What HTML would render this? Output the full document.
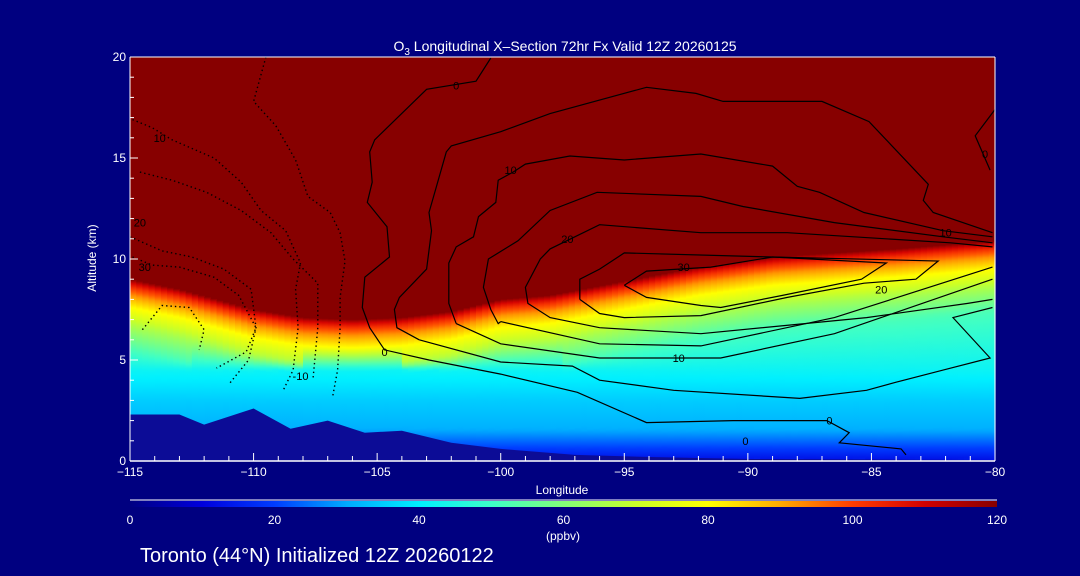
<!DOCTYPE html>
<html><head><meta charset="utf-8"><style>
html,body{margin:0;padding:0;background:#000080;}
svg{display:block;font-family:"Liberation Sans",sans-serif;}
</style></head><body>
<svg id="chart" width="1080" height="576" viewBox="0 0 1080 576" xmlns="http://www.w3.org/2000/svg">
<defs id="defs"></defs>
<rect x="0" y="0" width="1080" height="576" fill="#000080"/>
<text x="565" y="51" fill="#fff" font-size="14" text-anchor="middle">O<tspan font-size="10" dy="4">3</tspan><tspan dy="-4"> Longitudinal X–Section 72hr  Fx Valid 12Z 20260125</tspan></text>
<g id="field"></g>
<g id="terrain"></g>
<g id="contours"></g>
<g id="axes"></g>
<text x="562" y="494" fill="#fff" font-size="12" text-anchor="middle">Longitude</text>
<text x="96" y="258" fill="#fff" font-size="12" text-anchor="middle" transform="rotate(-90 96 258)">Altitude (km)</text>
<g id="colorbar"></g>
<text x="563" y="540" fill="#fff" font-size="12" text-anchor="middle">(ppbv)</text>
<text x="140" y="562" fill="#fff" font-size="20">Toronto (44°N) Initialized 12Z 20260122</text>
</svg>
<script>
const tropoLon=[-115,-113,-110,-108,-106,-104,-102,-100,-98,-95,-92,-89,-84,-80];
const tropoAlt=[9.0,8.5,7.5,7.1,7.0,7.1,7.4,8.0,8.2,8.9,9.6,10.1,10.5,10.9];
const terrLon=[-115,-113,-112,-110,-108.5,-107,-105.5,-104,-102,-100,-97,-94,-90,-80];
const terrAlt=[2.3,2.3,1.8,2.6,1.6,2.0,1.4,1.5,0.9,0.6,0.3,0.2,0.1,0.05];
const xTicks=[-115,-110,-105,-100,-95,-90,-85,-80];
const yTicks=[0,5,10,15,20];
const cbTicks=[0,20,40,60,80,100,120];
const cSolid0=[[-100.4,19.95],[-101,18.8],[-103,18.4],[-105.1,15.9],[-105.3,15.3],[-105.2,13.8],[-105.4,12.8],[-104.6,11.6],[-104.5,10.1],[-105.5,9.1],[-105.6,7.6],[-105.3,6.6],[-104.7,5.5],[-102.9,5.0],[-100,4.3],[-96.9,3.4],[-94.1,1.9],[-90.6,2.0],[-86.8,2.0],[-85.9,1.4],[-86.3,0.9],[-83.8,0.6],[-83.6,0.3]];
const cSolid1=[[-103.3,6.0],[-104.2,6.6],[-104.3,7.5],[-104.1,8.1],[-103,9.5],[-102.8,11.4],[-102.9,12.3],[-102.6,13.6],[-102.2,15.3],[-102,15.6],[-100,16.3],[-98,17.2],[-94.1,18.5],[-92.1,18.2],[-91,17.8],[-87,17.8],[-85.1,16.8],[-82.7,13.7],[-82.9,12.9],[-82.5,12.3],[-80.1,11.3]];
const cSolid1b=[[-103.3,6.0],[-100,4.9],[-97.1,4.7],[-96,4.0],[-93,3.5],[-87.9,3.1],[-85.2,3.5],[-84,3.9],[-82.1,4.5],[-80.2,5.1],[-81.7,7.1],[-80.1,7.6]];
const cSolid2=[[-101.8,6.8],[-102.1,7.8],[-102.1,9.8],[-101.8,10.6],[-101.1,11.1],[-100.9,12.1],[-100.2,12.8],[-100.1,13.9],[-99.5,14.3],[-99,14.7],[-97.2,15.1],[-95,14.9],[-91.9,15.2],[-89,14.6],[-88,13.6],[-87.1,13.3],[-85.3,12.3],[-82.1,11.4],[-80.1,11.1]];
const cSolid2b=[[-101.8,6.8],[-100,5.8],[-96,5.1],[-91.1,5.1],[-86.5,6.3],[-80.1,9.0]];
const cSolid3=[[-100,6.9],[-100.1,6.8],[-100.4,7.5],[-100.7,8.6],[-100.5,10],[-99.3,10.9],[-98,12.4],[-96.1,13.3],[-91.9,13.1],[-90.2,12.6],[-86.5,11.8],[-82.1,11.1],[-80.1,10.8]];
const cSolid3b=[[-100,6.9],[-96,5.8],[-91.9,5.7],[-86.5,7.1],[-80.1,9.6]];
const cSolid4=[[-80.1,10.6],[-81.8,10.8],[-88.4,11.3],[-91.9,11.3],[-96,11.7],[-98,10.5],[-98.4,10],[-99,8.6],[-98.9,7.8],[-98,7.1],[-96,6.6],[-91.9,6.3],[-85.2,7.1],[-81.1,7.8],[-80.1,8.0]];
const cSolid5=[[-96.8,8],[-96.8,9],[-96,9.5],[-95,10.3],[-89,10.1],[-82.3,9.9],[-83.2,9.0],[-85.3,8.8],[-88.4,8.1],[-91.9,7.2],[-95,7.1],[-96,7.3],[-96.8,8]];
const cSolid6=[[-95,8.7],[-94.1,9.4],[-91.5,9.6],[-89,10.1],[-84.4,9.8],[-85.4,9.0],[-88.6,8.2],[-91.1,7.6],[-91.9,7.7],[-94.1,8.1],[-95,8.7]];
const cSolid7=[[-80,17.4],[-80.8,16.1],[-80.2,14.4]];
const cDot1=[[-109.5,20],[-110,17.8],[-109.1,16.6],[-108.3,14.9],[-107.8,13.1],[-106.9,12.3],[-106.5,11.3],[-106.3,9.9],[-106.5,8.1],[-106.5,6.6],[-106.6,4.5],[-106.8,3.2]];
const cDot2=[[-114.9,16.9],[-114.1,16.5],[-113.3,15.9],[-111.6,15],[-110.5,13.8],[-109.7,12.4],[-108.7,11.4],[-108.1,9.8],[-108.3,8.5],[-108.2,6.6],[-108.4,4.5],[-108.8,3.5]];
const cDot3=[[-114.6,14.3],[-113.3,13.9],[-111.9,13.3],[-110.5,12.4],[-109.3,11.3],[-108.4,10],[-107.4,8.8],[-107.4,6.6],[-107.6,4.0]];
const cDot4=[[-115,11.1],[-113.7,10.4],[-112.5,10.1],[-111.2,9.5],[-110.1,8.5],[-109.9,6.6],[-110.2,5],[-111,3.8]];
const cDot5=[[-114.9,10.1],[-114.1,9.7],[-113,9.6],[-111.6,9.1],[-110.6,8.2],[-109.9,6.6],[-110.3,5.4],[-111.5,4.6]];
const cDot6=[[-114.5,6.5],[-113.7,7.7],[-112.6,7.6],[-112,6.5],[-112.2,5.5]];
const labelText=["0","10","20","30","10","20","30","20","10","10","0","0","-10","0","0"];
const labelLon=[-101.8,-113.8,-114.6,-114.4,-99.6,-97.3,-92.6,-84.6,-92.8,-82.0,-86.7,-80.4,-108.1,-104.7,-90.1];
const labelAlt=[18.6,16.0,11.8,9.6,14.4,11.0,9.6,8.5,5.1,11.3,2.0,15.2,4.2,5.4,1.0];

const NS='http://www.w3.org/2000/svg';
const X0=130,X1=995,YT=57,YB=461;
function X(lon){return X0+(lon+115)/35*(X1-X0);}
function Y(alt){return YB-alt/20*(YB-YT);}
function interp(xs,ys,x){if(x<=xs[0])return ys[0];for(let i=1;i<xs.length;i++){if(x<=xs[i]){const t=(x-xs[i-1])/(xs[i]-xs[i-1]);return ys[i-1]+t*(ys[i]-ys[i-1]);}}return ys[ys.length-1];}
const cmV=[0,10,20,30,40,50,60,70,80,90,100,110,120];
const cmC=[[0,0,130],[0,0,220],[0,60,255],[0,170,255],[0,240,255],[60,255,200],[130,255,120],[200,255,40],[255,255,0],[255,170,0],[255,60,0],[210,0,0],[135,0,0]];
function color(v){v=Math.max(0,Math.min(120,v));let i=Math.min(11,Math.floor(v/10));const t=(v-cmV[i])/10;const a=cmC[i],b=cmC[i+1];return 'rgb('+a.map((c,k)=>Math.round(c+t*(b[k]-c))).join(',')+')';}
function profile(alt,h){
  if(alt>=h)return 120;
  const up=[[h,118],[h-0.3,105],[h-0.8,92],[h-1.4,80],[h-2.3,66],[h-3.5,52]];
  const lo=[[4.5,42],[3.0,35],[1.6,31],[0.8,22],[0,12]];
  const pts=up.filter(p=>p[0]>4.8).concat(lo).sort((a,b)=>a[0]-b[0]);
  return interp(pts.map(p=>p[0]),pts.map(p=>p[1]),alt);
}
const defs=document.getElementById('defs');
const field=document.getElementById('field');
const bg=document.createElementNS(NS,'rect');
bg.setAttribute('x',X0);bg.setAttribute('y',YT);bg.setAttribute('width',X1-X0);bg.setAttribute('height',YB-YT);bg.setAttribute('fill','#870000');


field.appendChild(bg);
const step=0.25;
for(let lon=-115,i=0;lon<-80-1e-9;lon+=step,i++){
  const h=interp(tropoLon,tropoAlt,lon+step/2);
  const g=document.createElementNS(NS,'linearGradient');
  g.setAttribute('id','cg'+i);g.setAttribute('x1','0');g.setAttribute('y1','0');g.setAttribute('x2','0');g.setAttribute('y2','1');
  g.setAttribute('gradientUnits','objectBoundingBox');
  for(let a=h;a>=-0.001;a-=0.2){
    const s=document.createElementNS(NS,'stop');
    s.setAttribute('offset',((h-a)/h).toFixed(4));
    s.setAttribute('stop-color',color(profile(Math.max(a,0),h)));
    g.appendChild(s);
  }
  defs.appendChild(g);
  const r=document.createElementNS(NS,'rect');
  r.setAttribute('x',X(lon).toFixed(2));r.setAttribute('width',(X(lon+step)-X(lon)+0.6).toFixed(2));
  r.setAttribute('y',Y(h).toFixed(2));r.setAttribute('height',(YB-Y(h)).toFixed(2));
  r.setAttribute('fill','url(#cg'+i+')');
  
  
  field.appendChild(r);
}
let tp='M'+X(-115)+','+YB;
terrLon.forEach((l,k)=>{tp+=' L'+X(l).toFixed(1)+','+Y(terrAlt[k]).toFixed(1);});
tp+=' L'+X(-80)+','+YB+' Z';
const tr=document.createElementNS(NS,'path');
tr.setAttribute('d',tp);tr.setAttribute('fill','#0c0c96');


document.getElementById('terrain').appendChild(tr);
const cg=document.getElementById('contours');
function line(pts,dotted,name){
  const p=document.createElementNS(NS,'polyline');
  p.setAttribute('points',pts.map(q=>X(q[0]).toFixed(1)+','+Y(q[1]).toFixed(1)).join(' '));
  p.setAttribute('fill','none');p.setAttribute('stroke','#000');
  p.setAttribute('stroke-width',dotted?'1.4':'1.2');
  if(dotted)p.setAttribute('stroke-dasharray','1.4 3');
  
  
  cg.appendChild(p);
}
[cSolid0,cSolid1,cSolid1b,cSolid2,cSolid2b,cSolid3,cSolid3b,cSolid4,cSolid5,cSolid6,cSolid7].forEach(c=>line(c,false,'contour-positive'));
[cDot1,cDot2,cDot3,cDot4,cDot5,cDot6].forEach(c=>line(c,true,'contour-negative'));
labelText.forEach((t,k)=>{
  const e=document.createElementNS(NS,'text');
  e.setAttribute('x',X(labelLon[k]).toFixed(1));e.setAttribute('y',(Y(labelAlt[k])+4).toFixed(1));
  e.setAttribute('font-size','11');e.setAttribute('fill','#000');e.setAttribute('text-anchor','middle');
  e.textContent=t;
  
  
  cg.appendChild(e);
});
const ax=document.getElementById('axes');
function el(tag,attrs,name){const e=document.createElementNS(NS,tag);for(const k in attrs)e.setAttribute(k,attrs[k]);ax.appendChild(e);return e;}
el('line',{x1:X0,y1:YB,x2:X1,y2:YB,stroke:'#fff','stroke-width':1.5},'x-axis-line');
el('line',{x1:X0,y1:YT,x2:X1,y2:YT,stroke:'#fff','stroke-width':1},'top-axis-line');
el('line',{x1:X0,y1:YT,x2:X0,y2:YB,stroke:'#fff','stroke-width':1},'y-axis-line');
el('line',{x1:X1,y1:YT,x2:X1,y2:YB,stroke:'#fff','stroke-width':1},'right-axis-line');
for(let l=-115;l<=-80;l++){const major=(l%5===0);el('line',{x1:X(l),y1:YB,x2:X(l),y2:YB-(major?8:5),stroke:'#fff','stroke-width':1},'x-tick');}
xTicks.forEach(l=>{const t=el('text',{x:X(l),y:YB+15,fill:'#fff','font-size':12,'text-anchor':'middle'},'x-tick-label');t.textContent=(l<0?'−':'')+Math.abs(l);});
for(let a=0;a<=20;a+=1){el('line',{x1:X0,y1:Y(a),x2:X0+(a%5===0?8:4),y2:Y(a),stroke:'#fff','stroke-width':1},'y-tick');}
yTicks.forEach(a=>{const t=el('text',{x:X0-4,y:Y(a)+4,fill:'#fff','font-size':12,'text-anchor':'end'},'y-tick-label');t.textContent=a;});
const cb=document.getElementById('colorbar');
const lg=document.createElementNS(NS,'linearGradient');lg.setAttribute('id','cbg');
for(let v=0;v<=120;v+=5){const s=document.createElementNS(NS,'stop');s.setAttribute('offset',v/120);s.setAttribute('stop-color',color(v));lg.appendChild(s);}
defs.appendChild(lg);
const CB0=130,CB1=997;
function cbX(v){return CB0+v/120*(CB1-CB0);}
const wl=document.createElementNS(NS,'line');wl.setAttribute('x1',CB0);wl.setAttribute('x2',CB1);wl.setAttribute('y1',500);wl.setAttribute('y2',500);wl.setAttribute('stroke','#fff');


cb.appendChild(wl);
const cr=document.createElementNS(NS,'rect');cr.setAttribute('x',CB0);cr.setAttribute('y',501);cr.setAttribute('width',CB1-CB0);cr.setAttribute('height',6);cr.setAttribute('fill','url(#cbg)');


cb.appendChild(cr);
cbTicks.forEach(v=>{const t=document.createElementNS(NS,'text');t.setAttribute('x',cbX(v));t.setAttribute('y',524);t.setAttribute('fill','#fff');t.setAttribute('font-size','12');t.setAttribute('text-anchor','middle');t.textContent=v;


cb.appendChild(t);});
</script>
</body></html>
